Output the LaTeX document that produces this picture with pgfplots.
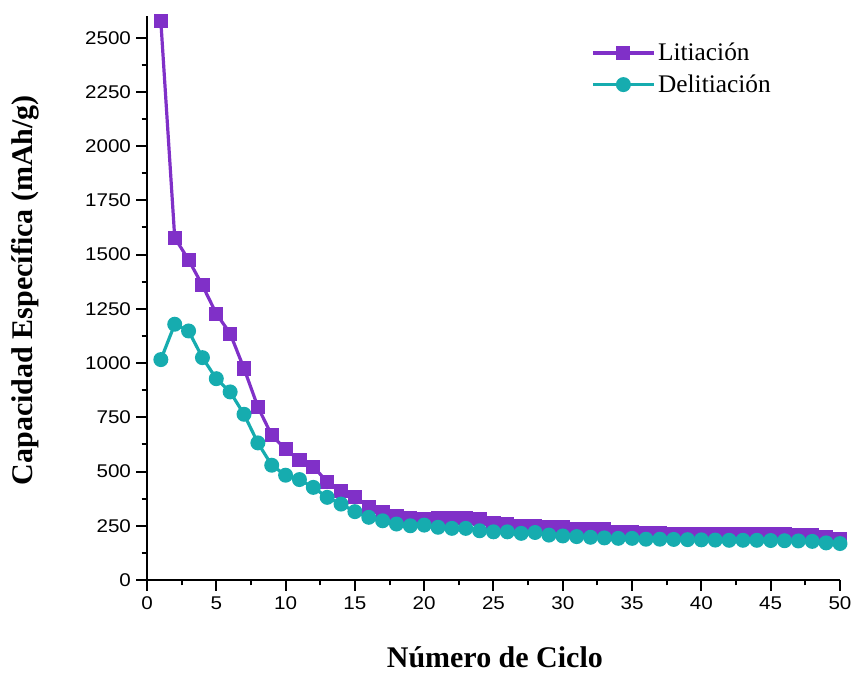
\documentclass[border=0pt]{standalone}
\usepackage{pgfplots}
\pgfplotsset{compat=1.18}
\usepackage{fontspec}
\setmainfont{Liberation Serif}
\newfontfamily\tickfont{Liberation Sans}[FakeStretch=1.12]
\definecolor{lit}{RGB}{128,48,200}
\definecolor{delit}{RGB}{22,172,175}
\pgfplotstableread{
x y
1 2575
2 1578
3 1476
4 1358
5 1228
6 1136
7 975
8 798
9 667
10 603
11 552
12 522
13 453
14 411
15 384
16 338
17 315
18 295
19 286
20 283
21 284
22 284
23 284
24 282
25 263
26 260
27 250
28 248
29 244
30 242
31 236
32 234
33 233
34 223
35 221
36 216
37 215
38 214
39 214
40 213
41 212
42 212
43 212
44 212
45 211
46 210
47 208
48 205
49 198
50 190
}\lit
\pgfplotstableread{
x y
1 1016
2 1179
3 1148
4 1025
5 928
6 867
7 764
8 632
9 529
10 483
11 463
12 427
13 381
14 350
15 315
16 289
17 273
18 258
19 250
20 253
21 243
22 238
23 238
24 227
25 222
26 222
27 215
28 219
29 207
30 203
31 200
32 197
33 194
34 192
35 192
36 188
37 188
38 187
39 186
40 185
41 184
42 183
43 183
44 183
45 182
46 181
47 180
48 178
49 171
50 168
}\delit
\begin{document}
\begin{tikzpicture}
\useasboundingbox (-110.25pt,-69.75pt) rectangle (529.5pt,435pt);
\begin{axis}[
  at={(0pt,0pt)}, anchor=south west,
  scale only axis,
  width=519.75pt, height=423pt,
  xmin=0, xmax=50, ymin=0, ymax=2600,
  axis x line*=bottom, axis y line*=left,
  axis line style={line width=1.5pt},
  xtick={0,5,...,50}, ytick={0,250,...,2500},
  minor x tick num=1, minor y tick num=1,
  tick align=outside,
  major tick length=8pt, minor tick length=4pt,
  every tick/.style={black, line width=1.5pt},
  /pgf/number format/assume math mode=true,
  /pgf/number format/1000 sep={},
  ticklabel style={font=\tickfont\fontsize{13.8}{16}\selectfont},
  yticklabel style={xshift=-0.5pt},
  xticklabel style={yshift=-1pt},
  clip=false,
  xlabel={Número de Ciclo},
  ylabel={Capacidad Específica (mAh/g)},
  label style={font=\fontsize{22.5}{26}\selectfont\bfseries},
  xlabel style={at={(axis description cs:0.502,-0.155)}, anchor=base},
  ylabel style={at={(axis description cs:-0.176,0.514)}, anchor=center},
  legend style={draw=none, fill=none, at={(axis description cs:0.6407,0.957)}, anchor=north west,
    font=\fontsize{19}{22}\selectfont, inner sep=0pt, row sep=5pt},
  legend cell align=left,
  legend image code/.code={\draw[mark repeat=2,mark phase=2] plot coordinates {(0pt,0pt)(22.9pt,0pt)(45.75pt,0pt)};},
]
\addplot[lit, line width=2.4pt, mark=square*, mark size=4.1pt, mark options={solid}] table[x=x,y=y] {\lit};
\addlegendentry{Litiación}
\addplot[delit, line width=2.4pt, mark=*, mark size=4.4pt, mark options={solid}] table[x=x,y=y] {\delit};
\addlegendentry{Delitiación}
\end{axis}
\end{tikzpicture}
\end{document}
